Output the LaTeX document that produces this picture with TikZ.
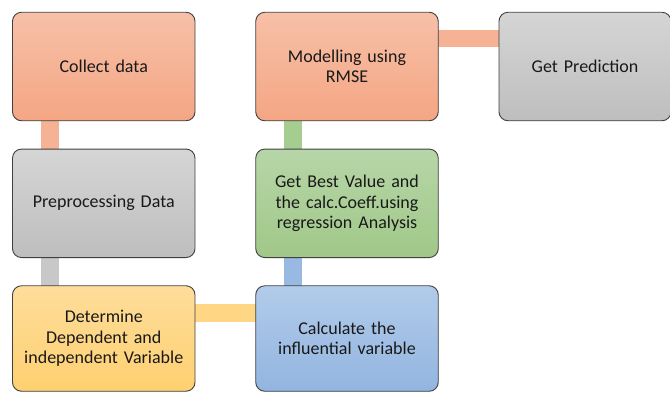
\documentclass[tikz,border=0pt]{standalone}
\usepackage{fontspec}
\setmainfont{Carlito}
\usetikzlibrary{backgrounds}
\definecolor{orT}{RGB}{247,192,168}
\definecolor{orB}{RGB}{244,166,131}
\definecolor{grT}{RGB}{213,213,213}
\definecolor{grB}{RGB}{190,190,190}
\definecolor{gnT}{RGB}{183,214,168}
\definecolor{gnB}{RGB}{160,200,136}
\definecolor{yeT}{RGB}{254,221,155}
\definecolor{yeB}{RGB}{254,208,112}
\definecolor{blT}{RGB}{178,203,234}
\definecolor{blB}{RGB}{146,181,224}
\definecolor{orBar}{RGB}{245,178,148}
\definecolor{grBar}{RGB}{200,200,200}
\definecolor{gnBar}{RGB}{166,205,144}
\definecolor{yeBar}{RGB}{254,214,132}
\definecolor{blBar}{RGB}{152,186,226}
\definecolor{edge}{RGB}{64,64,64}
\tikzset{
  box/.style={draw=edge, line width=0.9pt, rounded corners=9pt, outer sep=0pt,
    inner sep=0pt, align=center, text width=170pt, text=black!90,
    font=\fontsize{18}{20.5}\selectfont},
  bigbox/.style={box, minimum width=182.5pt, minimum height=108.5pt},
  bar/.style={line width=#1}
}
\begin{document}
\begin{tikzpicture}[x=1pt,y=-1pt]
\useasboundingbox (0,0) rectangle (670,392);
\clip (0,0) rectangle (670,392);
\node[bigbox, top color=orT, bottom color=orB] (collect) at (103.75,66.5) {Collect data};
\node[bigbox, top color=orT, bottom color=orB] (model) at (347,66.5) {Modelling using\\RMSE};
\node[box, minimum width=172pt, minimum height=108.5pt, top color=grT, bottom color=grB] (pred) at (585,66.5) {Get Prediction};
\node[bigbox, top color=grT, bottom color=grB] (prep) at (103.75,203.3) {Preprocessing Data};
\node[bigbox, top color=gnT, bottom color=gnB] (best) at (347,203.3) {Get Best Value and\\the calc.Coeff.using\\regression Analysis};
\node[bigbox, minimum height=105.5pt, top color=yeT, bottom color=yeB] (det) at (103.75,338.5) {Determine\\Dependent and\\independent Variable};
\node[bigbox, minimum height=105.5pt, top color=blT, bottom color=blB] (calc) at (347,338.5) {Calculate the\\influential variable};
\begin{pgfonlayer}{background}
\draw[bar=18pt, orBar] ([xshift=37.5pt]collect.south west) -- ([xshift=37.5pt]prep.north west);
\draw[bar=18pt, grBar] ([xshift=37.5pt]prep.south west) -- ([xshift=37.5pt]det.north west);
\draw[bar=17.5pt, yeBar] ([yshift=-27.3pt]det.north east) -- ([yshift=-27.3pt]calc.north west);
\draw[bar=17.5pt, blBar] ([xshift=37.3pt]calc.north west) -- ([xshift=37.3pt]best.south west);
\draw[bar=17.5pt, gnBar] ([xshift=37.3pt]best.north west) -- ([xshift=37.3pt]model.south west);
\draw[bar=17pt, orBar] ([yshift=-26.5pt]model.north east) -- ([yshift=-26.5pt]pred.north west);
\end{pgfonlayer}
\end{tikzpicture}
\end{document}
